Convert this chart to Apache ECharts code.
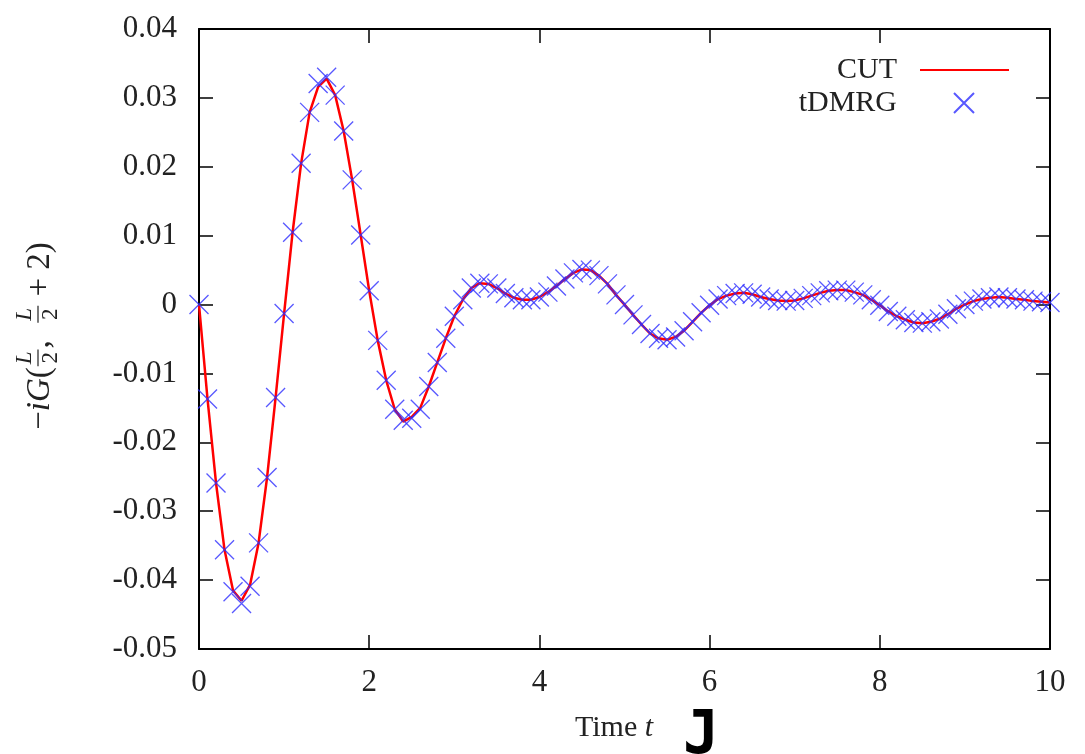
<!DOCTYPE html>
<html>
<head>
<meta charset="utf-8">
<script src="https://cdn.jsdelivr.net/npm/echarts@6/dist/echarts.min.js"></script>
<style>
html, body { margin: 0; padding: 0; background: #fff; }
#main { width: 1085px; height: 754px; }
</style>
</head>
<body>
<div id="main"></div>
<script>
// time grid, t J
var times = [
  0, 0.1, 0.2, 0.3, 0.4, 0.5, 0.6, 0.7, 0.8, 0.9,
  1, 1.1, 1.2, 1.3, 1.4, 1.5, 1.6, 1.7, 1.8, 1.9,
  2, 2.1, 2.2, 2.3, 2.4, 2.5, 2.6, 2.7, 2.8, 2.9,
  3, 3.1, 3.2, 3.3, 3.4, 3.5, 3.6, 3.7, 3.8, 3.9,
  4, 4.1, 4.2, 4.3, 4.4, 4.5, 4.6, 4.7, 4.8, 4.9,
  5, 5.1, 5.2, 5.3, 5.4, 5.5, 5.6, 5.7, 5.8, 5.9,
  6, 6.1, 6.2, 6.3, 6.4, 6.5, 6.6, 6.7, 6.8, 6.9,
  7, 7.1, 7.2, 7.3, 7.4, 7.5, 7.6, 7.7, 7.8, 7.9,
  8, 8.1, 8.2, 8.3, 8.4, 8.5, 8.6, 8.7, 8.8, 8.9,
  9, 9.1, 9.2, 9.3, 9.4, 9.5, 9.6, 9.7, 9.8, 9.9,
  10
];

// tDMRG 点
var tdmrg = [
  0, -0.0137, -0.0259, -0.0356, -0.0417, -0.0434, -0.0409, -0.0346, -0.0251, -0.0135,
  -0.0013, 0.0105, 0.0205, 0.0279, 0.0321, 0.0330, 0.0304, 0.0252, 0.0181, 0.0101,
  0.0020, -0.0052, -0.0110, -0.0152, -0.0168, -0.0165, -0.0152, -0.0119, -0.0084, -0.0049,
  -0.0017, 0.0007, 0.0024, 0.0031, 0.0030, 0.0024, 0.0016, 0.0010, 0.0007, 0.0007,
  0.0011, 0.0018, 0.0027, 0.0037, 0.0046, 0.0051, 0.0050, 0.0042, 0.0030, 0.0014,
  0.0000, -0.0015, -0.0029, -0.0042, -0.0049, -0.0051, -0.0047, -0.0038, -0.0025, -0.0012,
  -0.0001, 0.0008, 0.0013, 0.0016, 0.0017, 0.0015, 0.0011, 0.0008, 0.0006, 0.0005,
  0.0006, 0.0009, 0.0013, 0.0017, 0.0020, 0.0021, 0.0021, 0.0018, 0.0014, 0.0007,
  -0.0001, -0.0010, -0.0017, -0.0022, -0.0026, -0.0027, -0.0025, -0.0021, -0.0014, -0.0006,
  0.0000, 0.0005, 0.0008, 0.0010, 0.0011, 0.0010, 0.0008, 0.0007, 0.0005, 0.0004,
  0.0003
];

// CUT 曲线
var cut = [
  0, -0.0137, -0.0259, -0.0356, -0.0415, -0.0430, -0.0407, -0.0346, -0.0251, -0.0135,
  -0.0013, 0.0105, 0.0205, 0.0279, 0.0316, 0.0328, 0.0304, 0.0252, 0.0181, 0.0101,
  0.0020, -0.0052, -0.0110, -0.0152, -0.0170, -0.0163, -0.0150, -0.0119, -0.0084, -0.0049,
  -0.0017, 0.0007, 0.0024, 0.0031, 0.0030, 0.0024, 0.0016, 0.0010, 0.0007, 0.0007,
  0.0011, 0.0018, 0.0027, 0.0037, 0.0046, 0.0051, 0.0050, 0.0042, 0.0030, 0.0014,
  0.0000, -0.0015, -0.0029, -0.0042, -0.0049, -0.0051, -0.0047, -0.0038, -0.0025, -0.0012,
  -0.0001, 0.0008, 0.0013, 0.0016, 0.0017, 0.0015, 0.0011, 0.0008, 0.0006, 0.0005,
  0.0006, 0.0009, 0.0013, 0.0017, 0.0020, 0.0021, 0.0021, 0.0018, 0.0014, 0.0007,
  -0.0001, -0.0010, -0.0017, -0.0022, -0.0026, -0.0027, -0.0025, -0.0021, -0.0014, -0.0006,
  0.0000, 0.0005, 0.0008, 0.0010, 0.0011, 0.0010, 0.0008, 0.0007, 0.0005, 0.0004,
  0.0003
];

var SERIF = '"Liberation Serif", "DejaVu Serif", serif';
var TXT = '#222';

function pairs(xs, ys) {
  var out = [];
  for (var i = 0; i < xs.length; i++) out.push([xs[i], ys[i]]);
  return out;
}

// 测量文字宽度，用来拼 y 轴标题（带分数）
var mctx = document.createElement('canvas').getContext('2d');
function textW(s, font) { mctx.font = font; return mctx.measureText(s).width; }

function txt(x, y, s, font, align, valign, fill) {
  return { type: 'text', x: x, y: y,
    style: { text: s, font: font, fill: fill || TXT, align: align, verticalAlign: valign,
             textAlign: align, textVerticalAlign: valign } };
}

function buildYTitle() {
  var big = 33, small = 23;
  var fBig = big + 'px ' + SERIF, fBigI = 'italic ' + big + 'px ' + SERIF;
  var fSmallI = 'italic ' + small + 'px ' + SERIF, fSmall = small + 'px ' + SERIF;
  var parts = [
    ['\u2212', fBig], ['i', fBigI], ['G', fBigI], ['(', fBig], 'frac',
    [',  ', fBig], 'frac', [' + 2)', fBig]
  ];
  var fracW = Math.max(textW('L', fSmallI), textW('2', fSmall)) + 6;
  var total = 0;
  parts.forEach(function (p) { total += (p === 'frac') ? fracW : textW(p[0], p[1]); });
  var x = -total / 2, kids = [];
  parts.forEach(function (p) {
    if (p === 'frac') {
      kids.push(txt(x + fracW / 2, -15, 'L', fSmallI, 'center', 'middle'));
      kids.push({ type: 'line', shape: { x1: x + 1, y1: -2, x2: x + fracW - 1, y2: -2 },
        style: { stroke: TXT, lineWidth: 1.2 } });
      kids.push(txt(x + fracW / 2, 11, '2', fSmall, 'center', 'middle'));
      x += fracW;
    } else {
      kids.push(txt(x, 0, p[0], p[1], 'left', 'middle'));
      x += textW(p[0], p[1]);
    }
  });
  return { type: 'group', x: 40, y: 336, rotation: Math.PI / 2, children: kids };
}

var chart = echarts.init(document.getElementById('main'));

var tickStyle = { show: true, inside: true, length: 14, lineStyle: { color: '#000', width: 1.5 } };
var lineAx = { show: true, onZero: false, lineStyle: { color: '#000', width: 2 } };

var option = {
  animation: false,
  backgroundColor: '#fff',
  grid: { left: 199, right: 35, top: 29, bottom: 105 },
  xAxis: [
    { type: 'value', min: 0, max: 10, interval: 2, position: 'bottom',
      axisLine: lineAx, axisTick: tickStyle, splitLine: { show: false },
      axisLabel: { fontFamily: SERIF, fontSize: 31, color: TXT, margin: 18 } },
    { type: 'value', min: 0, max: 10, interval: 2, position: 'top',
      axisLine: lineAx, axisTick: tickStyle, splitLine: { show: false },
      axisLabel: { show: false } }
  ],
  yAxis: [
    { type: 'value', min: -0.05, max: 0.04, interval: 0.01, position: 'left',
      axisLine: lineAx, axisTick: tickStyle, splitLine: { show: false },
      axisLabel: { fontFamily: SERIF, fontSize: 31, color: TXT, margin: 22,
        formatter: function (v) { return Math.abs(v) < 1e-9 ? '0' : v.toFixed(2); } } },
    { type: 'value', min: -0.05, max: 0.04, interval: 0.01, position: 'right',
      axisLine: lineAx, axisTick: tickStyle, splitLine: { show: false },
      axisLabel: { show: false } }
  ],
  legend: [
    { data: ['CUT'], right: 75, top: 55, padding: 0, align: 'right',
      itemWidth: 89, itemHeight: 14, itemStyle: { opacity: 0 },
      textStyle: { fontFamily: SERIF, fontSize: 30, color: TXT, padding: [0, 18, 0, 0] } },
    { data: ['tDMRG'], right: 110, top: 88, padding: 0, align: 'right',
      itemWidth: 20, itemHeight: 20,
      textStyle: { fontFamily: SERIF, fontSize: 30, color: TXT, padding: [0, 52, 0, 0] } }
  ],
  graphic: [
    buildYTitle(),
    txt(575, 728, 'Time ', '30px ' + SERIF, 'left', 'middle'),
    txt(575 + textW('Time ', '30px ' + SERIF), 728, 't', 'italic 30px ' + SERIF, 'left', 'middle'),
    txt(683, 707, 'J', 'bold 60px "DejaVu Sans Mono", monospace', 'left', 'top', '#000')
  ],
  series: [
    { name: 'CUT', type: 'line', data: pairs(times, cut), symbol: 'none', showSymbol: false,
      smooth: false, lineStyle: { color: '#ff0000', width: 2.5 }, itemStyle: { color: '#ff0000' }, z: 2 },
    { name: 'tDMRG', type: 'scatter', data: pairs(times, tdmrg),
      symbol: 'path://M0,0L10,10M10,0L0,10', symbolSize: 19,
      itemStyle: { color: 'rgba(0,0,0,0)', borderColor: '#2e2eff', borderWidth: 1.3 }, z: 3 }
  ]
};

chart.setOption(option);
</script>
</body>
</html>
